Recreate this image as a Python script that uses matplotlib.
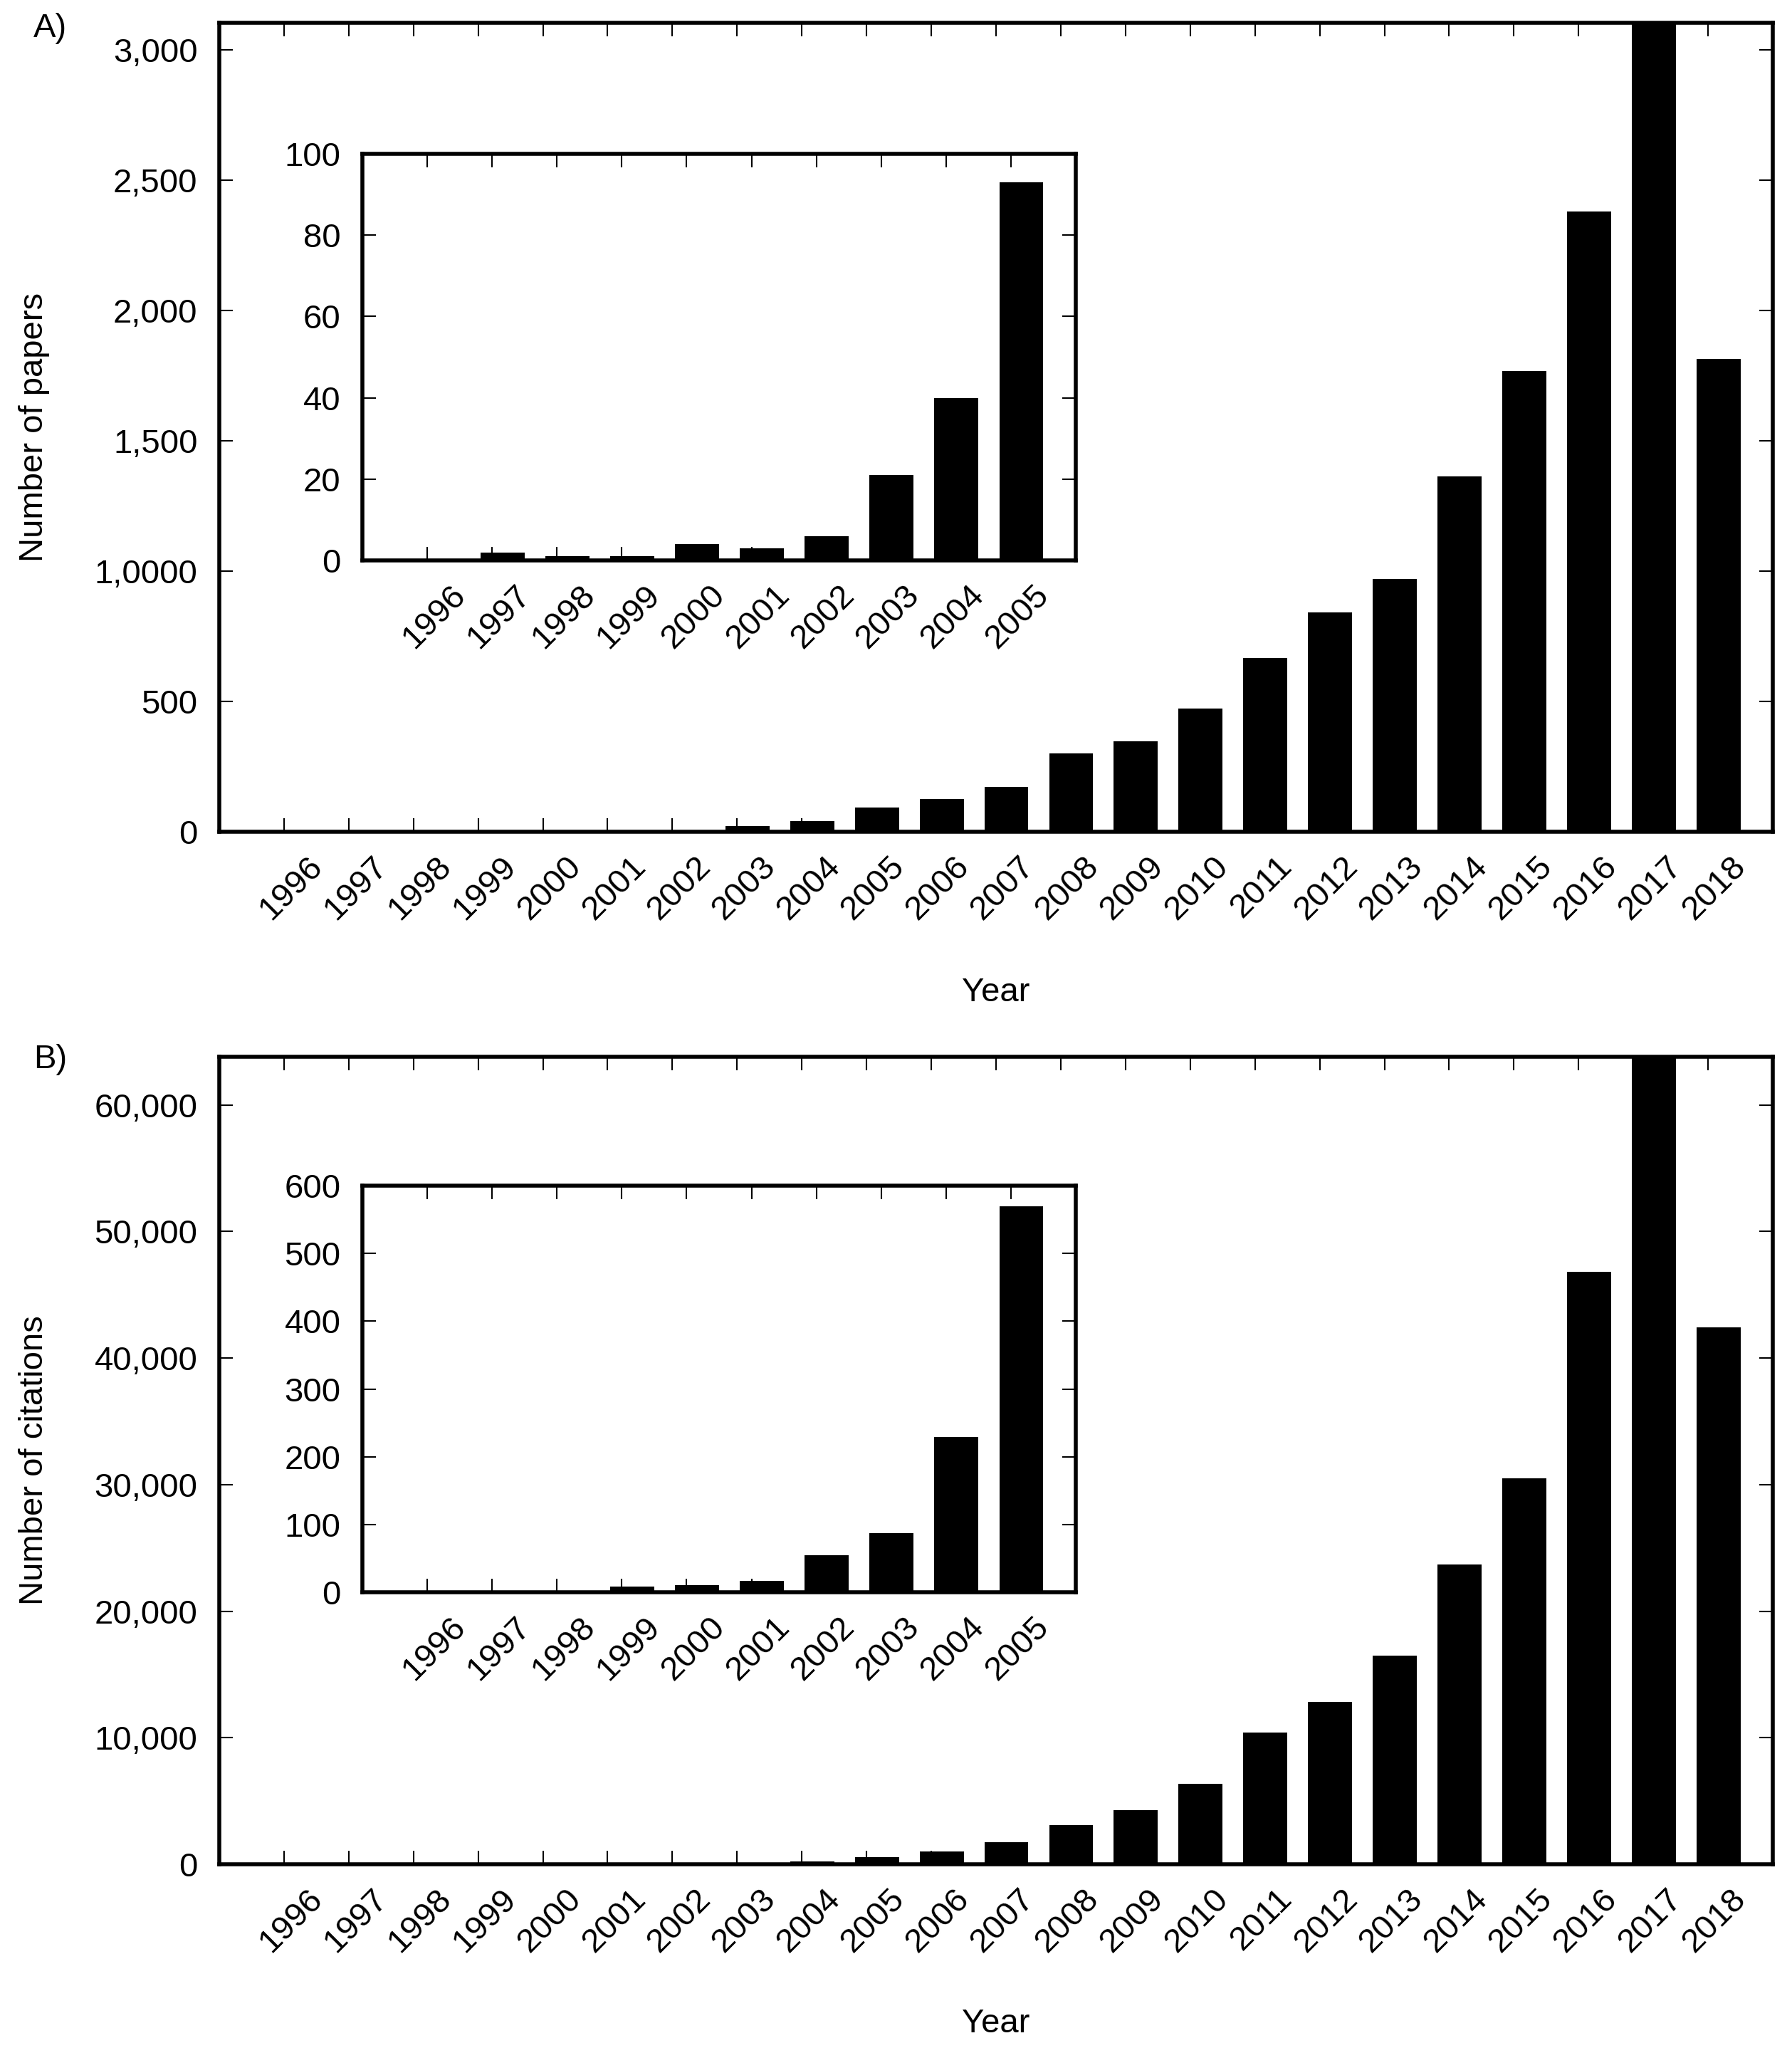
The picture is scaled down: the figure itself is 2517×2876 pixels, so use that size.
"""Papers and citations per year, with insets zooming on the early years."""

import matplotlib
matplotlib.use('Agg')
import matplotlib.pyplot as plt
import matplotlib.transforms as mtransforms
import numpy as np

plt.rcParams['font.family'] = ['Liberation Sans', 'DejaVu Sans']
plt.rcParams['font.size'] = 34

years = [str(y) for y in range(1996, 2019)]
papers = [0, 2, 1, 1, 4, 3, 6, 21, 40, 93, 126, 171, 301, 347, 472, 667,
          841, 971, 1365, 1769, 2381, 3300, 1816]
citations = [0, 0, 0, 8, 11, 17, 55, 87, 229, 570, 1030, 1760, 3100, 4270,
             6380, 10430, 12800, 16500, 23700, 30500, 46800, 66000, 42400]

# inset covers 1996-2005
n_inset = 10

papers_ticks = [0, 500, 1000, 1500, 2000, 2500, 3000]
papers_ticklabels = ['0', '500', '1,0000', '1,500', '2,000', '2,500', '3,000']
cit_ticks = [0, 10000, 20000, 30000, 40000, 50000, 60000]
cit_ticklabels = ['0', '10,000', '20,000', '30,000', '40,000', '50,000', '60,000']
inset_papers_ticks = [0, 20, 40, 60, 80, 100]
inset_cit_ticks = [0, 100, 200, 300, 400, 500, 600]

W, H = 2517, 2876
fig = plt.figure(figsize=(W / 100, H / 100), dpi=100)
shift = mtransforms.ScaledTranslation(7 / 72, 0, fig.dpi_scale_trans)


def px_axes(left, right, top, bottom):
    return fig.add_axes([left / W, 1 - bottom / H, (right - left) / W, (bottom - top) / H])


def style(ax, spine_w=4.0):
    for s in ax.spines.values():
        s.set_linewidth(spine_w)
    ax.tick_params(direction='in', top=True, right=True, length=14, width=1.5)
    ax.tick_params(axis='x', pad=19)
    ax.tick_params(axis='y', pad=22)
    for lbl in ax.get_xticklabels():
        lbl.set_transform(lbl.get_transform() + shift)


def bars(ax, values, labels):
    x = np.arange(len(values))
    ax.bar(x + 0.16, values, width=0.68, color='black', zorder=2)
    ax.set_xticks(x)
    ax.set_xticklabels(labels, rotation=45, ha='center')
    ax.set_xlim(-1, len(values))


# ---- panel A ----
axA = px_axes(308, 2490, 32, 1168)
bars(axA, papers, years)
axA.set_ylim(0, 3105)
axA.set_yticks(papers_ticks)
axA.set_yticklabels(papers_ticklabels)
style(axA)
axA.set_xlabel('Year', va='center')
axA.xaxis.set_label_coords(0.5, -(1394 - 1168) / (1168 - 32))
axA.set_ylabel('Number of papers', va='center')
axA.yaxis.set_label_coords(-(308 - 48) / (2490 - 308), 0.5)

insA = px_axes(509, 1511, 216, 787)
bars(insA, papers[:n_inset], years[:n_inset])
insA.set_ylim(0, 100)
insA.set_yticks(inset_papers_ticks)
style(insA)

# ---- panel B ----
axB = px_axes(308, 2490, 1484, 2618)
bars(axB, citations, years)
axB.set_ylim(0, 63800)
axB.set_yticks(cit_ticks)
axB.set_yticklabels(cit_ticklabels)
style(axB)
axB.set_xlabel('Year', va='center')
axB.xaxis.set_label_coords(0.5, -(2842 - 2618) / (2618 - 1484))
axB.set_ylabel('Number of citations', va='center')
axB.yaxis.set_label_coords(-(308 - 48) / (2490 - 308), 0.5)

insB = px_axes(509, 1511, 1665, 2236)
bars(insB, citations[:n_inset], years[:n_inset])
insB.set_ylim(0, 600)
insB.set_yticks(inset_cit_ticks)
style(insB)

fig.text(47 / W, 1 - 40 / H, 'A)', ha='left', va='center')
fig.text(47 / W, 1 - 1488 / H, 'B)', ha='left', va='center')

fig.savefig('out.png', dpi=100)
